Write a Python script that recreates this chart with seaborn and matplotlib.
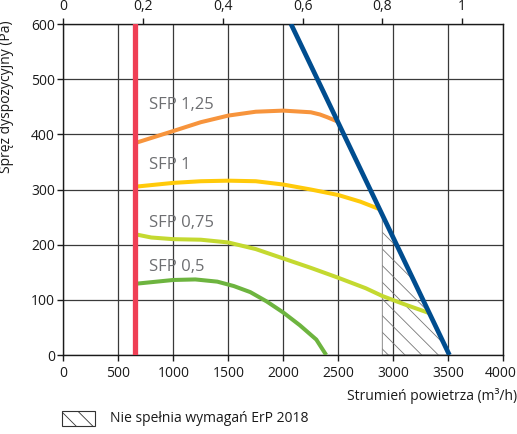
import numpy as np
import pandas as pd
import seaborn as sns
import matplotlib
matplotlib.use("Agg")
import matplotlib.pyplot as plt
import matplotlib.transforms as mtransforms
from matplotlib.patches import Rectangle
from matplotlib.ticker import FuncFormatter

# Airflow (m3/h) and available pressure (Pa) for each SFP curve
sfp125_x = [650, 1000, 1250, 1500, 1750, 2000, 2250, 2333, 2400, 2497]
sfp125_y = [384, 406, 422, 434, 441, 443, 440, 436, 431, 423]

sfp1_x = [650, 1000, 1250, 1500, 1750, 2000, 2250, 2500, 2700, 2880]
sfp1_y = [305, 312, 315, 316, 315, 309, 300, 290, 278, 264]

sfp075_x = [650, 800, 1000, 1250, 1500, 1750, 2000, 2250, 2500, 2750, 2900, 3100, 3327]
sfp075_y = [219, 213, 210, 209, 204, 192, 175, 158, 140, 121, 107, 92, 76]

sfp05_x = [650, 800, 1000, 1200, 1400, 1550, 1700, 1850, 2000, 2150, 2300, 2390]
sfp05_y = [129, 132, 136, 137, 133, 125, 114, 97, 77, 54, 28, 0]

# Maximum fan characteristic
fan_x = [2070, 3510]
fan_y = [600, 0]

# Minimum airflow limit
min_flow = 650

# Start of the region that does not meet ErP 2018
erp_limit = 2900

sfp_labels = ["SFP 1,25", "SFP 1", "SFP 0,75", "SFP 0,5"]
label_x = [780, 780, 780, 780]
label_y = [453, 344, 239, 159]

x_ticks = [0, 500, 1000, 1500, 2000, 2500, 3000, 3500, 4000]
y_ticks = [0, 100, 200, 300, 400, 500, 600]
top_ticks = [0, 0.2, 0.4, 0.6, 0.8, 1]
top_scale = 3625

sns.set_theme(style="white")
plt.rcParams["font.family"] = ["Open Sans", "DejaVu Sans"]
plt.rcParams["hatch.linewidth"] = 0.6
plt.rcParams["hatch.color"] = "#666666"

fig = plt.figure(figsize=(5.17, 4.34), dpi=100)
ax = fig.add_axes([0.1224, 0.182, 0.8511, 0.7627])

ax.set_xlim(0, 4000)
ax.set_ylim(0, 600)
ax.set_xticks(x_ticks)
ax.set_yticks(y_ticks)
ax.grid(True, color="#3a3a3a", linewidth=0.9)
ax.set_axisbelow(True)
for side in ["left", "bottom", "top", "right"]:
    ax.spines[side].set_color("#1a1a1a")
    ax.spines[side].set_linewidth(1.0)
ax.tick_params(axis="both", direction="out", length=4, width=1, color="#1a1a1a",
               labelsize=10, labelcolor="#1a1a1a", left=True, bottom=True)
ax.tick_params(axis="x", pad=4)
ax.tick_params(axis="y", pad=2)

# Hatched region below the fan characteristic beyond the ErP limit
fan_at_limit = np.interp(erp_limit, fan_x, fan_y)
ax.fill_between([erp_limit, fan_x[1]], [fan_at_limit, fan_y[1]], 0,
                facecolor="none", edgecolor="#777777", hatch="\\\\", linewidth=0.6, zorder=1.5)

series = [
    (sfp125_x, sfp125_y, "#F7943C"),
    (sfp1_x, sfp1_y, "#FFCA0A"),
    (sfp075_x, sfp075_y, "#C4D930"),
    (sfp05_x, sfp05_y, "#6DB43F"),
]
for xs, ys, col in series:
    df = pd.DataFrame({"x": xs, "y": ys})
    sns.lineplot(data=df, x="x", y="y", ax=ax, color=col, linewidth=2.9,
                 sort=False, estimator=None, zorder=3, solid_capstyle="butt",
                 solid_joinstyle="round")

fan_df = pd.DataFrame({"x": fan_x, "y": fan_y})
sns.lineplot(data=fan_df, x="x", y="y", ax=ax, color="#004D8F", linewidth=3.4,
             sort=False, estimator=None, zorder=4, solid_capstyle="butt")

ax.axvline(min_flow, color="#EF3F55", linewidth=3.8, zorder=5)

for txt, lx, ly in zip(sfp_labels, label_x, label_y):
    ax.text(lx, ly, txt, fontsize=12, color="#6D6E71", ha="left", va="center", zorder=6)

ax.set_ylabel("Spręż dyspozycyjny (Pa)", fontsize=10, color="#1a1a1a")
ax.yaxis.set_label_coords(-0.112, 0.78)
ax.set_xlabel("Strumień powietrza (m³/h)", fontsize=10, color="#1a1a1a")
ax.xaxis.set_label_coords(1.031, -0.124)
ax.xaxis.label.set_horizontalalignment("right")
ax.xaxis.label.set_verticalalignment("center")

# Keep the last bottom tick label inside the canvas
fig.canvas.draw()
last = ax.get_xticklabels()[-1]
last.set_transform(last.get_transform() + mtransforms.ScaledTranslation(-3 / 100, 0, fig.dpi_scale_trans))

top = ax.secondary_xaxis("top", functions=(lambda v: v / top_scale, lambda v: v * top_scale))
top.set_xticks(top_ticks)
top.xaxis.set_major_formatter(FuncFormatter(lambda v, p: f"{v:g}".replace(".", ",")))
top.tick_params(direction="out", length=4, width=1, color="#1a1a1a", labelsize=10,
                labelcolor="#1a1a1a", pad=3)
top.spines["top"].set_visible(False)

# Legend entry for the hatched region
fig.patches.append(Rectangle((0.12, 0.0184), 0.0644, 0.0346, transform=fig.transFigure,
                             facecolor="white", edgecolor="#333333", linewidth=0.8,
                             hatch="\\\\"))
fig.text(0.2128, 0.0346, "Nie spełnia wymagań ErP 2018", fontsize=10,
         color="#1a1a1a", ha="left", va="center")

fig.savefig("out.png", dpi=100)
